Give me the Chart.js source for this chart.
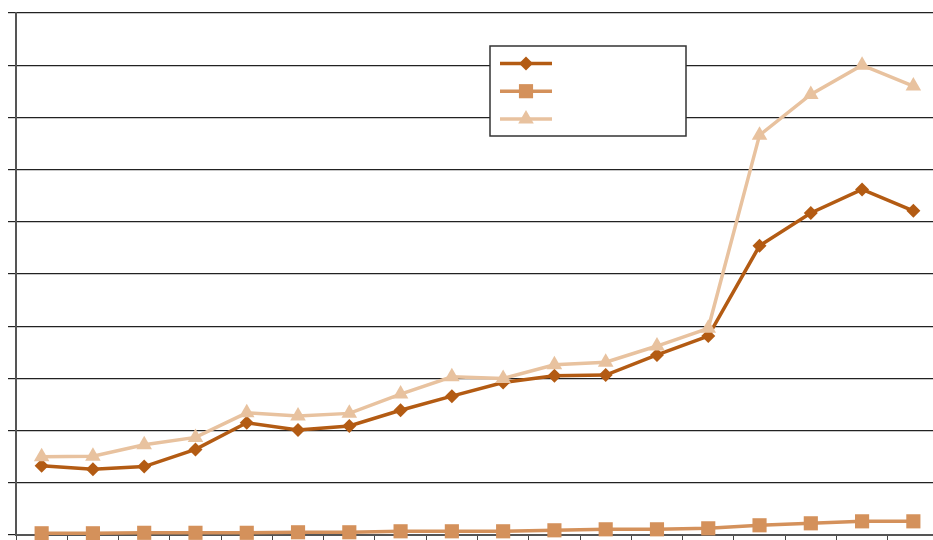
<!DOCTYPE html>
<html>
<head>
<meta charset="utf-8">
<script src="https://cdn.jsdelivr.net/npm/chart.js@4/dist/chart.umd.min.js"></script>
<style>
  html, body { margin: 0; padding: 0; background: #ffffff; overflow: hidden; }
  #wrap { width: 933px; height: 540px; overflow: hidden; position: relative; }
  canvas { display: block; }
</style>
</head>
<body>
<div id="wrap"><canvas id="chart" width="949" height="545"></canvas></div>
<script>
// Periods along the horizontal axis (labels are not shown)
const categories = ['1', '2', '3', '4', '5', '6', '7', '8', '9', '10', '11', '12', '13', '14', '15', '16', '17', '18'];

// Series values
const seriesDiamond = [13.25, 12.6, 13.1, 16.4, 21.5, 20.1, 20.9, 23.9, 26.6, 29.2, 30.5, 30.65, 34.5, 38.1, 55.4, 61.7, 66.2, 62.1];
const seriesSquare = [0.33, 0.33, 0.42, 0.42, 0.42, 0.52, 0.52, 0.71, 0.71, 0.71, 0.9, 1.09, 1.09, 1.28, 1.86, 2.24, 2.62, 2.62];
const seriesTriangle = [15.0, 15.1, 17.3, 18.7, 23.4, 22.8, 23.3, 27.0, 30.3, 30.0, 32.6, 33.1, 36.2, 39.6, 76.6, 84.4, 90.0, 86.0];

// Value axis range
const yMin = 0;
const yMax = 100;
const yStep = 10;

const COLORS = {
  diamond: '#B35B13',
  square: '#D4915B',
  triangle: '#E8C29F'
};

// Boxed legend with line-and-marker samples, drawn over the plot
const boxLegend = {
  id: 'boxLegend',
  afterDatasetsDraw(chart, args, opts) {
    const ctx = chart.ctx;
    ctx.save();
    ctx.fillStyle = '#ffffff';
    ctx.fillRect(opts.x, opts.y, opts.w, opts.h);
    ctx.strokeStyle = '#333333';
    ctx.lineWidth = 1.5;
    ctx.strokeRect(opts.x, opts.y, opts.w, opts.h);
    [0, 1, 2].forEach((di, row) => {
      const ds = chart.data.datasets[di];
      const yy = opts.y + opts.firstRow + row * opts.rowGap;
      ctx.strokeStyle = ds.borderColor;
      ctx.lineWidth = ds.borderWidth;
      ctx.beginPath();
      ctx.moveTo(opts.x + opts.lineX0, yy);
      ctx.lineTo(opts.x + opts.lineX1, yy);
      ctx.stroke();
      ctx.fillStyle = ds.pointBackgroundColor;
      ctx.strokeStyle = ds.pointBorderColor;
      Chart.helpers.drawPoint(ctx, {
        pointStyle: ds.pointStyle,
        radius: ds.pointRadius,
        rotation: 0,
        borderWidth: 0
      }, opts.x + (opts.lineX0 + opts.lineX1) / 2, yy);
    });
    ctx.restore();
  }
};

const ctx = document.getElementById('chart').getContext('2d');
new Chart(ctx, {
  type: 'line',
  data: {
    labels: categories,
    datasets: [
      {
        label: '',
        data: seriesDiamond,
        borderColor: COLORS.diamond,
        backgroundColor: COLORS.diamond,
        pointBackgroundColor: COLORS.diamond,
        pointBorderColor: COLORS.diamond,
        borderWidth: 3.5,
        pointStyle: 'rectRot',
        pointRadius: 7,
        pointBorderWidth: 0,
        tension: 0,
        clip: false,
        order: 2
      },
      {
        label: '',
        data: seriesSquare,
        borderColor: COLORS.square,
        backgroundColor: COLORS.square,
        pointBackgroundColor: COLORS.square,
        pointBorderColor: COLORS.square,
        borderWidth: 3.5,
        pointStyle: 'rect',
        pointRadius: 10,
        pointBorderWidth: 0,
        tension: 0,
        clip: false,
        order: 1
      },
      {
        label: '',
        data: seriesTriangle,
        borderColor: COLORS.triangle,
        backgroundColor: COLORS.triangle,
        pointBackgroundColor: COLORS.triangle,
        pointBorderColor: COLORS.triangle,
        borderWidth: 3.5,
        pointStyle: 'triangle',
        pointRadius: 9,
        pointBorderWidth: 0,
        tension: 0,
        clip: false,
        order: 0
      }
    ]
  },
  options: {
    responsive: false,
    animation: false,
    devicePixelRatio: 1,
    layout: { padding: { left: 8, right: 0, top: 13, bottom: 0 } },
    plugins: {
      legend: { display: false },
      tooltip: { enabled: false },
      boxLegend: {
        x: 490, y: 46, w: 196, h: 90,
        firstRow: 17.5, rowGap: 27.7,
        lineX0: 10, lineX1: 62
      }
    },
    elements: {
      point: { hoverRadius: 0 }
    },
    scales: {
      x: {
        type: 'category',
        offset: true,
        ticks: { display: false },
        grid: {
          offset: true,
          drawOnChartArea: false,
          drawTicks: true,
          tickLength: 5,
          color: '#444444',
          lineWidth: 1
        },
        border: { display: true, color: '#555555', width: 2 }
      },
      y: {
        min: yMin,
        max: yMax,
        ticks: { display: false, stepSize: yStep },
        grid: {
          drawOnChartArea: true,
          drawTicks: true,
          tickLength: 8,
          color: '#222222',
          lineWidth: 1.2
        },
        border: { display: true, color: '#555555', width: 2 }
      }
    }
  },
  plugins: [boxLegend]
});
</script>
</body>
</html>
